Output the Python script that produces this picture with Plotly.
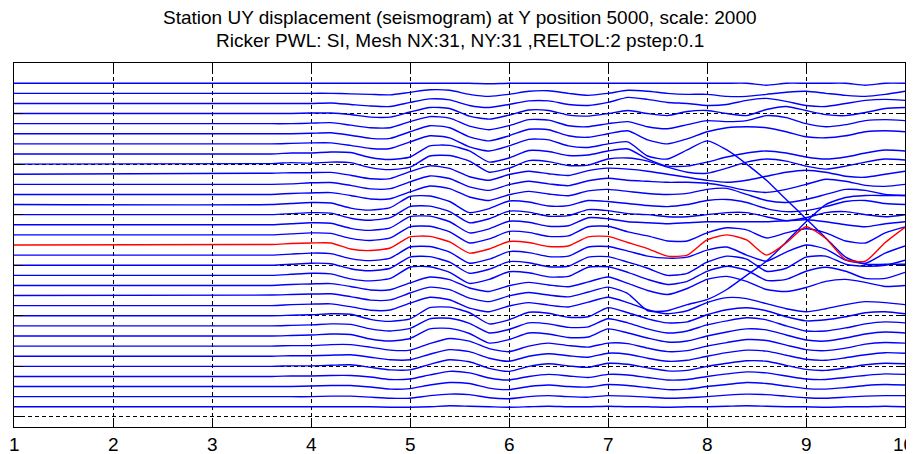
import plotly.graph_objects as go

# sample times of the seismogram (pstep grid)
x_samples = [1.0, 3.6, 3.8, 4.0, 4.2, 4.4, 4.6, 4.8, 5.0, 5.2, 5.4, 5.6, 5.8, 6.0, 6.2, 6.4,
             6.6, 6.8, 7.0, 7.2, 7.4, 7.6, 7.8, 8.0, 8.2, 8.4, 8.6, 8.8, 9.0, 9.2, 9.4, 9.6,
             9.8, 10.0]

# scaled UY displacement of each station (station 1 = bottom trace)
station_01 = [0, 0, 0, 0, 0, 0, 0, -0.05, -0.05, 0, 0.1, 0.05, 0, -0.05, 0, 0.05, 0, 0, 0.05, 0, 0, -0.05, 0, 0, 0.05, 0.1, 0.05, 0, 0, -0.05, 0, 0, 0.05, 0]
station_02 = [0, 0, 0, 0, 0.05, 0.05, -0.05, -0.15, -0.15, 0.1, 0.25, 0.2, -0.1, -0.2, 0, 0.1, 0, -0.05, 0.1, 0.05, -0.05, -0.15, -0.1, 0, 0.15, 0.25, 0.2, 0.05, -0.1, -0.15, -0.05, 0.05, 0.1, 0.1]
station_03 = [0, 0, 0, 0.05, 0.1, 0.1, -0.05, -0.25, -0.2, 0.15, 0.4, 0.3, -0.15, -0.3, 0, 0.15, 0, -0.05, 0.2, 0.1, -0.1, -0.3, -0.25, 0, 0.2, 0.4, 0.3, 0.05, -0.2, -0.25, -0.1, 0.1, 0.2, 0.15]
station_04 = [0, 0, 0.05, 0.05, 0.1, 0.1, -0.05, -0.3, -0.25, 0.15, 0.5, 0.35, -0.15, -0.35, 0, 0.2, 0.05, -0.1, 0.2, 0.15, -0.1, -0.35, -0.3, 0, 0.25, 0.45, 0.35, 0.05, -0.25, -0.3, -0.1, 0.1, 0.25, 0.2]
station_05 = [0, 0, 0.05, 0.05, 0.1, 0.15, -0.1, -0.35, -0.35, 0.2, 0.65, 0.45, -0.2, -0.5, 0, 0.25, 0.05, -0.1, 0.3, 0.2, -0.15, -0.45, -0.4, 0, 0.3, 0.55, 0.5, 0.1, -0.3, -0.4, -0.15, 0.15, 0.3, 0.25]
station_06 = [0, 0, 0.05, 0.05, 0.1, 0.15, -0.1, -0.35, -0.35, 0.2, 0.65, 0.45, -0.2, -0.5, 0, 0.25, 0.05, -0.1, 0.3, 0.2, -0.2, -0.5, -0.4, 0, 0.35, 0.6, 0.5, 0.1, -0.3, -0.4, -0.15, 0.15, 0.35, 0.3]
station_07 = [0, 0, 0.05, 0.05, 0.15, 0.15, -0.1, -0.4, -0.4, 0.25, 0.75, 0.5, -0.25, -0.55, 0, 0.3, 0.05, -0.1, 0.3, 0.25, -0.2, -0.55, -0.45, 0, 0.35, 0.65, 0.55, 0.1, -0.35, -0.45, -0.2, 0.2, 0.35, 0.3]
station_08 = [0, 0, 0.05, 0.1, 0.2, 0.15, -0.3, -0.5, -0.25, 0.7, 0.75, 0.25, -0.7, -0.35, 0.3, 0.2, -0.15, -0.1, 0.7, 0.3, -0.2, -0.6, -0.5, 0, 0.4, 0.7, 0.6, 0.1, -0.4, -0.5, -0.2, 0.2, 0.4, 0.3]
station_09 = [0, 0, 0.05, 0.1, 0.2, 0.15, -0.3, -0.5, -0.25, 0.7, 0.75, 0.25, -0.7, -0.35, 0.3, 0.2, -0.15, -0.1, 0.7, 0.3, -0.3, -0.7, -0.5, 0.1, 0.5, 0.8, 0.6, 0.0, -0.5, -0.5, -0.2, 0.2, 0.4, 0.3]
station_10 = [0, 0, 0.05, 0.1, 0.2, 0.15, -0.35, -0.55, -0.3, 0.8, 0.85, 0.3, -0.8, -0.4, 0.35, 0.25, -0.15, -0.1, 0.8, 0.3, -0.3, -0.7, -0.6, 0.1, 0.6, 0.8, 0.5, -0.1, -0.5, -0.4, -0.1, 0.3, 0.4, 0.2]
station_11 = [0, 0, 0.1, 0.15, 0.18, -0.1, -0.45, -0.43, 0.25, 0.83, 0.58, -0.25, -0.6, -0.03, 0.3, 0.05, -0.13, 0.35, 0.83, 0.3, -0.4, -0.8, -0.5, 0.3, 0.8, 0.7, 0.2, -0.3, -0.6, -0.3, 0.1, 0.4, 0.3, 0.1]
station_12 = [0, 0.05, 0.1, 0.15, 0.18, -0.1, -0.45, -0.43, 0.25, 0.83, 0.58, -0.25, -0.6, -0.03, 0.3, 0.05, -0.13, 0.35, 0.83, 0.2, -1.5, -1.5, -0.9, -0.4, 0.6, 2.0, 3.4, 5.3, 7.3, 9.0, 9.7, 9.9, 9.9, 9.9]
station_13 = [0, 0, 0.1, 0.15, 0.18, -0.1, -0.45, -0.43, 0.25, 0.83, 0.58, -0.25, -0.6, -0.03, 0.3, 0.05, -0.13, 0.35, 0.83, 0.2, -0.5, -0.9, -0.3, 0.6, 0.9, 0.4, -0.4, -0.6, -0.2, 0.4, 0.6, 0.3, -0.1, 0.0]
station_14 = [0, 0, 0.1, 0.2, 0.15, -0.35, -0.55, -0.3, 0.8, 0.85, 0.3, -0.8, -0.4, 0.35, 0.25, -0.15, -0.1, 0.8, 0.85, 0.3, -0.4, -0.9, -0.6, 0.4, 0.9, 0.5, -0.5, -0.4, 0.4, 0.8, 0.4, -0.3, -0.3, 0.3]
station_15 = [0, 0, 0.1, 0.2, 0.15, -0.35, -0.55, -0.3, 0.8, 0.85, 0.3, -0.8, -0.4, 0.35, 0.25, -0.15, -0.1, 0.8, 0.85, 0.3, -0.3, -1.0, -0.8, 0.3, 0.9, 0.6, -0.6, -0.3, 0.8, 0.9, 0.1, -0.1, 0.0, 0.5]
station_16 = [0, 0, 0.1, 0.2, 0.15, -0.35, -0.55, -0.3, 0.8, 0.85, 0.3, -0.8, -0.4, 0.35, 0.25, -0.15, -0.1, 0.8, 0.85, 0.4, -0.1, -0.3, -0.2, 0.5, 0.8, 0.0, -0.6, 0.3, 1.0, 0.6, -0.5, -0.8, 0.2, 0.9]
station_17 = [0, 0.05, 0.15, 0.2, 0.2, -0.4, -0.55, -0.3, 0.8, 0.85, 0.3, -0.8, -0.4, 0.35, 0.25, -0.15, -0.1, 0.8, 0.85, 0.25, -0.35, -1.1, -1.0, 0.5, 1.0, 0.5, -1.0, 0.2, 1.8, 0.65, -1.45, -1.6, 0.25, 1.75]
station_18 = [0, 0, 0.1, 0.2, 0.15, -0.35, -0.55, -0.3, 0.8, 0.85, 0.3, -0.8, -0.4, 0.35, 0.25, -0.15, -0.1, 0.8, 0.85, 0.3, -0.1, -0.6, -0.6, 0.2, 0.7, 0.5, -0.3, 0.2, 0.6, 0.2, -0.6, -0.8, 0.2, 0.8]
station_19 = [0, 0, 0.1, 0.2, 0.15, -0.35, -0.55, -0.3, 0.8, 0.85, 0.3, -0.8, -0.4, 0.35, 0.25, -0.15, -0.1, 0.7, 0.6, 0.3, 0.2, 0.1, 0.2, 0.3, 0.3, 0.3, 0.3, 0.4, 0.5, 0.3, 0.0, -0.2, 0.1, 0.3]
station_20 = [0, 0, 0.1, 0.2, 0.15, -0.35, -0.55, -0.3, 0.8, 0.85, 0.3, -0.8, -0.4, 0.35, 0.25, -0.15, -0.1, 0.5, 0.4, 0.1, 0.0, -0.2, -0.2, 0.0, 0.2, 0.2, -0.2, -0.6, -0.3, 0.2, 0.3, 0.0, -0.2, 0.0]
station_21 = [0, 0, 0.1, 0.2, 0.15, -0.35, -0.55, -0.3, 0.8, 0.85, 0.3, -0.8, -0.4, 0.35, 0.25, -0.15, -0.1, 0.4, 0.3, 0.1, -0.1, -0.2, 0.0, 0.4, 0.5, 0.2, -0.4, -0.7, -0.6, -0.2, 0.3, 0.4, 0.1, 0.0]
station_22 = [0, 0, 0.1, 0.15, 0.18, -0.1, -0.45, -0.43, 0.25, 0.83, 0.58, -0.25, -0.6, -0.03, 0.3, 0.05, -0.13, 0.35, 0.5, 0.3, 0.1, 0.0, 0.1, 0.5, 0.6, 0.0, -0.6, -0.8, -0.5, 0.0, 0.5, 0.4, 0.0, -0.1]
station_23 = [0, 0, 0.05, 0.15, 0.18, -0.1, -0.45, -0.43, 0.25, 0.83, 0.58, -0.25, -0.6, -0.03, 0.3, 0.05, -0.13, 0.35, 0.6, 0.4, 0.3, 0.2, 0.2, 0.1, -0.2, -0.6, -0.8, -0.5, 0.0, 0.5, 0.3, -0.1, -0.2, 0.0]
station_24 = [0, 0.1, 0.15, 0.15, 0.18, -0.1, -0.45, -0.43, 0.25, 0.83, 0.58, -0.25, -0.6, -0.03, 0.3, 0.05, -0.13, 0.35, 0.6, 0.5, 0.3, 0.0, -0.3, -0.6, -0.8, -0.6, -0.2, 0.2, 0.4, 0.2, -0.2, -0.3, 0.0, 0.3]
station_25 = [0, 0.05, 0.15, 0.1, 0.2, 0.15, -0.35, -0.55, -0.3, 0.8, 0.85, 0.3, -0.8, -0.4, 0.35, 0.25, -0.15, -0.1, 0.5, 0.6, 0.3, -0.3, -0.8, -0.9, -0.4, 0.2, 0.5, 0.3, -0.2, -0.5, -0.2, 0.2, 0.5, 0.4]
station_26 = [0, 0, 0.1, 0.1, 0.2, 0.15, -0.35, -0.55, -0.3, 0.8, 0.85, 0.3, -0.8, -0.4, 0.35, 0.25, -0.15, -0.1, 0.3, 0.5, -0.5, -1.2, -1.2, -0.8, -0.3, 0.1, 0.3, 0.1, -0.3, -0.5, -0.3, 0.1, 0.4, 0.3]
station_27 = [0, 0, 0.05, 0.1, 0.1, -0.15, -0.45, -0.45, 0.2, 0.8, 0.6, -0.3, -0.7, -0.2, 0.45, 0.4, -0.2, -0.35, 0.0, 0.2, -1.2, -1.5, -0.6, 0.3, -0.6, -2.0, -3.6, -5.5, -7.4, -9.3, -11.2, -11.9, -11.9, -11.9]
station_28 = [0, 0, 0, 0.05, 0.1, -0.15, -0.45, -0.45, 0.2, 0.8, 0.6, -0.3, -0.7, -0.2, 0.45, 0.4, -0.2, -0.35, 0.0, 0.3, -0.6, -1.0, -0.5, 0.2, 0.6, 0.7, 0.6, 0.2, -0.3, -0.4, -0.2, 0.2, 0.3, 0.2]
station_29 = [0, 0, 0, 0.05, 0.1, -0.15, -0.4, -0.4, 0.2, 0.7, 0.55, -0.25, -0.6, -0.2, 0.4, 0.35, -0.2, -0.3, 0.0, 0.2, -0.3, -0.5, -0.1, 0.3, 0.2, 0.3, 0.8, 0.6, 0.0, -0.3, -0.1, 0.3, 0.4, 0.3]
station_30 = [0, 0, 0, 0.05, 0.05, -0.1, -0.35, -0.35, 0.15, 0.6, 0.5, -0.25, -0.55, -0.15, 0.35, 0.3, -0.15, -0.25, 0.0, 0.3, 0.0, -0.2, 0.2, 0.3, 0.0, -0.2, 0.4, 0.7, 0.3, -0.1, -0.2, 0.1, 0.5, 0.6]
station_31 = [0, 0, 0, 0, 0.05, -0.1, -0.25, -0.3, 0.1, 0.45, 0.35, -0.2, -0.4, -0.1, 0.25, 0.25, -0.1, -0.2, 0.1, 0.6, 0.4, 0.1, 0.0, -0.2, -0.1, 0.3, 0.5, 0.2, -0.2, -0.3, 0.0, 0.3, 0.4, 0.3]
station_32 = [0, 0, 0, 0, 0, -0.05, -0.1, -0.15, 0.1, 0.35, 0.3, -0.1, -0.3, -0.1, 0.2, 0.25, 0.0, -0.2, 0.0, 0.3, 0.2, 0.0, -0.1, -0.1, -0.3, -0.3, -0.1, 0.1, 0.2, 0.0, -0.2, -0.3, -0.1, 0.2]
station_33 = [0, 0, 0, 0, 0, 0, 0, 0, 0, 0, 0, 0, -0.05, 0, 0, 0, 0, 0, 0, 0, 0, 0, 0, 0, 0, 0, -0.2, 0, 0, 0, 0, -0.2, 0, 0]

stations = [station_01, station_02, station_03, station_04, station_05, station_06, station_07,
            station_08, station_09, station_10, station_11, station_12, station_13, station_14,
            station_15, station_16, station_17, station_18, station_19, station_20, station_21,
            station_22, station_23, station_24, station_25, station_26, station_27, station_28,
            station_29, station_30, station_31, station_32, station_33]
highlight_station = 17  # station drawn in red

x_ticks = [1, 2, 3, 4, 5, 6, 7, 8, 9, 10]
y_grid = [0, 5, 10, 15, 20, 25, 30, 35]

title_line1 = "Station UY displacement (seismogram) at Y position 5000, scale: 2000"
title_line2 = "Ricker PWL: SI, Mesh NX:31, NY:31 ,RELTOL:2 pstep:0.1"

FONT = "Liberation Sans, Arial, sans-serif"

fig = go.Figure()
order = [i for i in range(len(stations)) if i + 1 != highlight_station] + [highlight_station - 1]
for i in order:
    disp = stations[i]
    offset = i + 1
    fig.add_trace(go.Scatter(
        x=x_samples, y=[offset + d for d in disp], mode="lines",
        line=dict(color="#ff0000" if offset == highlight_station else "#0000ff", width=1.4,
                  shape="spline", smoothing=0.6),
        showlegend=False, hoverinfo="skip"))

axis_common = dict(showline=True, linecolor="black", linewidth=1, mirror="ticks",
                   ticks="inside", ticklen=9, tickcolor="black", tickwidth=1,
                   showgrid=True, gridcolor="black", gridwidth=1, griddash="4px,3px",
                   zeroline=False, automargin=False, showticklabels=False)

fig.update_xaxes(range=[1, 10], tickvals=x_ticks, **axis_common)
fig.update_yaxes(range=[-1, 35], tickvals=y_grid, **axis_common)

# x tick labels (the last one is nudged so it stays inside the page)
for t in x_ticks:
    fig.add_annotation(text=str(t), x=t, xref="x", y=0, yref="paper",
                       xanchor="center", yanchor="top", yshift=-5,
                       xshift=-2 if t == x_ticks[-1] else 0, showarrow=False,
                       font=dict(family=FONT, size=19, color="black"))

fig.add_annotation(text=title_line1, xref="paper", yref="paper", x=0.5, y=1.126,
                   xanchor="center", yanchor="middle", showarrow=False,
                   font=dict(family=FONT, size=19, color="black"))
fig.add_annotation(text=title_line2, xref="paper", yref="paper", x=0.5, y=1.062,
                   xanchor="center", yanchor="middle", showarrow=False,
                   font=dict(family=FONT, size=19, color="black"))

# the page adds an 8 px body margin, so the figure is sized to fit inside the window
fig.update_layout(width=906, height=446, margin=dict(l=6, r=9, t=55, b=27, autoexpand=False),
                  paper_bgcolor="white", plot_bgcolor="white")

fig.write_html("out.html")
